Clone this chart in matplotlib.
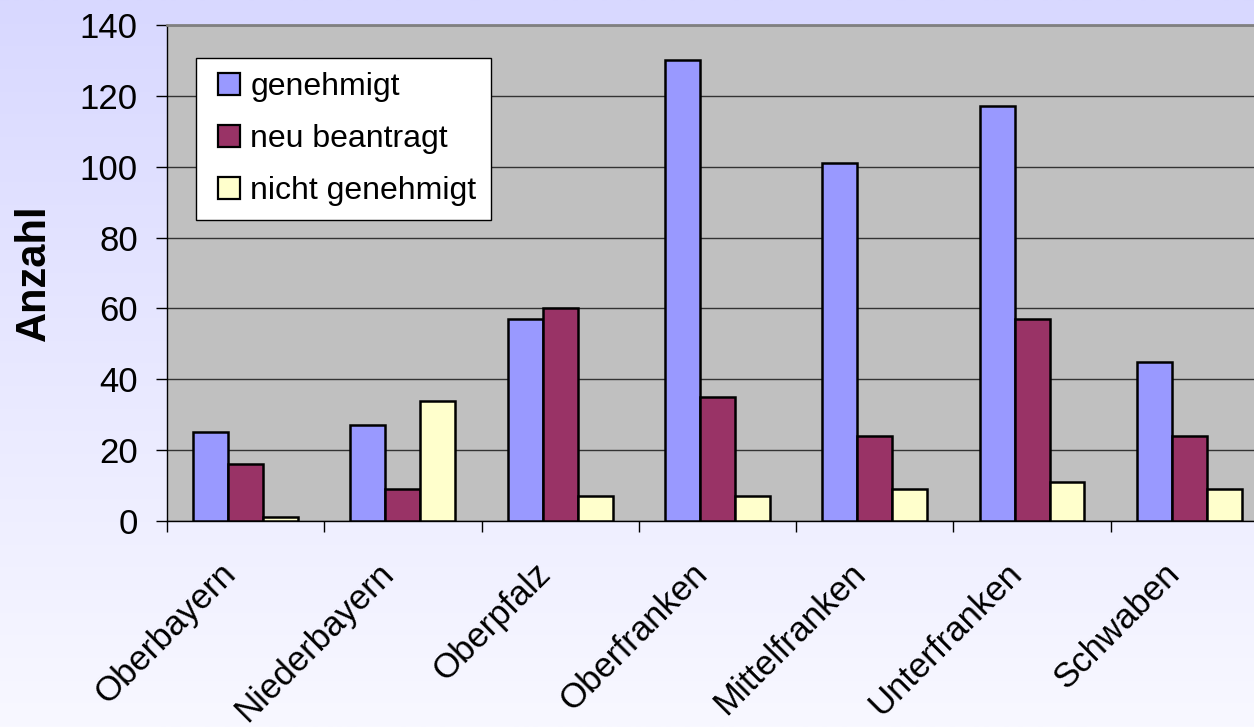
import numpy as np
import matplotlib
matplotlib.use("Agg")
import matplotlib.pyplot as plt
from matplotlib.patches import Patch, Rectangle
from matplotlib.legend_handler import HandlerPatch

categories = ["Oberbayern", "Niederbayern", "Oberpfalz", "Oberfranken",
              "Mittelfranken", "Unterfranken", "Schwaben"]
genehmigt = [25, 27, 57, 130, 101, 117, 45]
neu_beantragt = [16, 9, 60, 35, 24, 57, 24]
nicht_genehmigt = [1, 34, 7, 7, 9, 11, 9]
series_names = ["genehmigt", "neu beantragt", "nicht genehmigt"]
colors = ["#9999FF", "#993366", "#FFFFCC"]
y_ticks = [0, 20, 40, 60, 80, 100, 120, 140]

plt.rcParams['font.family'] = ['Liberation Sans', 'DejaVu Sans']

fig = plt.figure(figsize=(12.54, 7.27), dpi=100)

# background gradient
bg = fig.add_axes([0, 0, 1, 1], zorder=-10)
top = np.array([216, 216, 255]) / 255
bot = np.array([248, 248, 255]) / 255
t = np.linspace(0, 1, 256)[:, None]
grad = top[None, :] * (1 - t) + bot[None, :] * t
bg.imshow(grad[:, None, :], aspect='auto', extent=[0, 1, 0, 1])
bg.axis('off')

ax = fig.add_axes([167 / 1254, 1 - 521 / 727, 1101 / 1254, 496 / 727])
ax.set_facecolor("#C0C0C0")

x = np.arange(len(categories))
w = 1 / 4.5
data = [genehmigt, neu_beantragt, nicht_genehmigt]
for i, (vals, c, name) in enumerate(zip(data, colors, series_names)):
    ax.bar(x + (i - 1) * w, vals, width=w, color=c, edgecolor="black",
           linewidth=1.8, label=name, zorder=3)

ax.set_xlim(-0.5, len(categories) - 0.5)
ax.set_ylim(0, 140)
ax.set_yticks(y_ticks)
ax.set_yticklabels([str(v) for v in y_ticks], fontsize=25)
ax.yaxis.grid(True, color="#333333", linewidth=1.0, zorder=1)
ax.set_axisbelow(True)
ax.tick_params(axis='y', direction='out', length=8, width=1, pad=13, colors='black')

ax.set_xticks(np.arange(-0.5, len(categories) + 0.5, 1))
ax.set_xticklabels([])
ax.tick_params(axis='x', which='major', direction='out', length=8, width=1)
ax.set_xticks(x - 0.095, categories, minor=True, rotation=45, ha='right', va='center',
              rotation_mode='anchor', fontsize=25)
ax.tick_params(axis='x', which='minor', length=0, pad=34)

for s in ['left', 'bottom']:
    ax.spines[s].set_color('black')
    ax.spines[s].set_linewidth(1.0)
ax.spines['top'].set_color('#808080')
ax.spines['top'].set_linewidth(2.0)
ax.spines['right'].set_visible(False)

fig.text(34 / 1254, 1 - 273 / 727, "Anzahl", rotation=90, ha='center',
         va='center', fontsize=30, fontweight='bold')


def square_patch(legend, orig_handle, xdescent, ydescent, width, height, fontsize):
    side = height
    return Rectangle((-xdescent + width - side, -ydescent), side, side)


handles = [Patch(facecolor=c, edgecolor='black', linewidth=1.6) for c in colors]
leg = ax.legend(handles, series_names, loc='upper left',
                bbox_to_anchor=((196 - 167) / 1101, (521 - 58) / 496),
                fontsize=23, frameon=True, fancybox=False, framealpha=1,
                edgecolor='black', handlelength=0.94, handleheight=0.69,
                handletextpad=0.31, labelspacing=0.68, borderpad=0.45,
                borderaxespad=0,
                handler_map={Patch: HandlerPatch(patch_func=square_patch)})
leg.get_frame().set_linewidth(1.0)
leg.set_zorder(5)

fig.savefig("out.png", dpi=100)
